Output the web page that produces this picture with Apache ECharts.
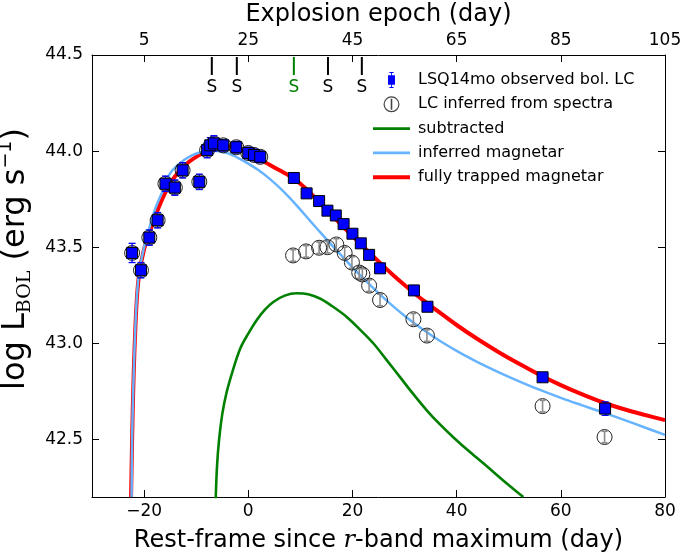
<!DOCTYPE html>
<html>
<head>
<meta charset="utf-8">
<script src="https://cdn.jsdelivr.net/npm/echarts@6/dist/echarts.min.js"></script>
<style>
html,body{margin:0;padding:0;background:#fff;}
#chart{width:687px;height:559px;}
</style>
</head>
<body>
<div id="chart"></div>
<script>
// ---- data ----
const bottomTicks = [-20, 0, 20, 40, 60, 80];
const topTickLabels = ['5', '25', '45', '65', '85', '105'];
const yTicks = [42.5, 43.0, 43.5, 44.0, 44.5];

const obsDay = [-22.3,-20.6,-19.0,-17.4,-15.9,-14.1,-12.6,-9.4,-7.9,-7.3,-6.6,-4.8,-2.3,0.0,1.1,2.3,8.75,11.2,13.6,15.2,16.8,18.3,20.0,21.6,23.2,25.3,31.8,34.4,56.5,68.5];
const obsL   = [43.47,43.38,43.55,43.64,43.83,43.81,43.90,43.84,44.005,44.03,44.04,44.03,44.02,43.99,43.98,43.97,43.86,43.78,43.74,43.69,43.665,43.62,43.57,43.52,43.46,43.39,43.275,43.19,42.823,42.66];
const obsErr = [0.05,0.04,0.04,0.04,0.04,0.04,0.04,0.04,0.04,0.04,0.04,0.03,0.03,0.03,0.03,0.03,0.02,0.02,0.02,0.02,0.02,0.02,0.02,0.02,0.02,0.02,0.02,0.02,0.02,0.035];

const spDay = [-22.3,-20.6,-19.0,-17.4,-15.9,-14.1,-12.6,-9.4,-7.9,-6.6,-4.8,-2.3,0.0,1.1,2.3,8.6,11.1,13.6,15.2,16.9,18.5,19.9,21.3,21.9,23.2,25.3,31.7,34.3,56.5,68.4];
const spL   = [43.47,43.38,43.55,43.64,43.83,43.81,43.90,43.84,44.005,44.04,44.03,44.02,43.99,43.98,43.97,43.457,43.478,43.497,43.50,43.514,43.47,43.42,43.368,43.358,43.30,43.225,43.125,43.04,42.673,42.512];
const spErr = [0.03,0.03,0.03,0.03,0.03,0.03,0.03,0.03,0.03,0.03,0.03,0.03,0.03,0.03,0.03,0.03,0.03,0.03,0.03,0.03,0.03,0.03,0.03,0.03,0.03,0.03,0.03,0.03,0.03,0.03];

const redDay = [-22.5,-22.3,-22.0,-21.5,-21.0,-20,-19,-18,-17,-16,-15,-14,-12,-10,-8,-6,-4,-2,0,2,4,6,8,10,12,14,16,18,20,22,24,26,28,30,32,34,36,40,44,48,52,56,60,64,68,72,76,80];
const redL   = [42.2,42.5,42.84,43.18,43.35,43.49,43.57,43.65,43.72,43.78,43.83,43.87,43.93,43.97,44.0,44.02,44.025,44.015,43.995,43.96,43.93,43.90,43.87,43.83,43.78,43.725,43.668,43.612,43.558,43.505,43.452,43.40,43.35,43.303,43.258,43.215,43.175,43.095,43.022,42.955,42.893,42.835,42.782,42.735,42.693,42.658,42.628,42.60];

const blueDay = [-22.4,-22.3,-22.0,-21.5,-21.0,-20,-19.6,-18,-16,-15,-13,-11,-9,-7,-6,-4,-2,0,2,4,6,8,10,12,14,16,18,20,22,24,26,28,30,32,34,36,38,40,42,44,48,52,56,60,64,68,72,76,80];
const blueL   = [42.2,42.5,42.84,43.19,43.36,43.50,43.54,43.69,43.82,43.885,43.94,43.975,43.995,44.005,44.0,43.99,43.965,43.935,43.90,43.858,43.81,43.755,43.695,43.633,43.572,43.512,43.453,43.395,43.34,43.287,43.236,43.188,43.143,43.101,43.062,43.026,42.992,42.96,42.93,42.902,42.85,42.802,42.757,42.716,42.678,42.641,42.603,42.563,42.523];

const greenDay = [-6.25,-6.0,-5.6,-5.0,-4.2,-3.0,-1.5,0.0,1.6,3.2,4.8,7.0,9.3,11.5,13.75,16.0,18.9,21.5,24.0,26.5,29.1,31.7,34.3,36.9,39.4,42.5,45.8,49.0,52.8];
const greenL   = [42.19,42.36,42.50,42.63,42.74,42.855,42.975,43.05,43.12,43.175,43.215,43.248,43.26,43.255,43.233,43.195,43.137,43.07,43.0,42.915,42.825,42.735,42.65,42.575,42.51,42.435,42.36,42.285,42.2];

const sDay = [-7.0, -2.2, 8.75, 15.3, 21.8];
const sColor = ['#000000', '#000000', '#008000', '#000000', '#000000'];

// ---- build series data ----
const zip = (a, b) => a.map((v, i) => [v, b[i]]);
const obsData = zip(obsDay, obsL);
const obsErrData = obsDay.map((d, i) => [d, obsL[i], obsErr[i]]);
const spData = zip(spDay, spL);
const spErrData = spDay.map((d, i) => [d, spL[i], spErr[i]]);
const sData = sDay.map((d, i) => [d, i]);

const FONT = 'DejaVu Sans';

function errRender(color, cap, width) {
  return function (params, api) {
    const x = api.value(0), y = api.value(1), e = api.value(2);
    const lo = api.coord([x, y - e]);
    const hi = api.coord([x, y + e]);
    const st = { stroke: color, lineWidth: width };
    return {
      type: 'group',
      children: [
        { type: 'line', shape: { x1: lo[0], y1: lo[1], x2: hi[0], y2: hi[1] }, style: st },
        { type: 'line', shape: { x1: lo[0] - cap, y1: lo[1], x2: lo[0] + cap, y2: lo[1] }, style: st },
        { type: 'line', shape: { x1: hi[0] - cap, y1: hi[1], x2: hi[0] + cap, y2: hi[1] }, style: st }
      ]
    };
  };
}

const chart = echarts.init(document.getElementById('chart'), null, { renderer: 'canvas' });

const axisCommon = {
  type: 'value',
  min: -30, max: 80,
  axisLine: { show: true, onZero: false, lineStyle: { color: '#000', width: 1 } },
  axisTick: { show: true, inside: true, length: 7, customValues: bottomTicks, lineStyle: { color: '#000', width: 1 } },
  splitLine: { show: false }
};

const lineSeries = (name, days, vals, color, width, z) => ({
  name, type: 'line', data: zip(days, vals), smooth: 0.35,
  showSymbol: false, symbol: 'none',
  lineStyle: { color, width }, itemStyle: { color }, z
});

const option = {
  backgroundColor: '#ffffff',
  animation: false,
  grid: { left: 92, right: 22, top: 55, bottom: 62, containLabel: false, outerBoundsMode: 'none' },
  xAxis: [
    Object.assign({}, axisCommon, {
      position: 'bottom',
      name: '{a|Rest-frame since }{it|r}{a|-band maximum (day)}',
      nameLocation: 'middle',
      nameGap: 30,
      nameTextStyle: {
        rich: {
          a: { fontFamily: FONT, fontSize: 24, color: '#000', lineHeight: 28 },
          it: { fontFamily: 'DejaVu Serif', fontStyle: 'italic', fontSize: 24, color: '#000', lineHeight: 28 }
        }
      },
      axisLabel: { show: true, customValues: bottomTicks, margin: 6, fontFamily: FONT, fontSize: 17, color: '#000',
        formatter: v => (v < 0 ? '\u2212' + Math.abs(v) : String(v)) }
    }),
    Object.assign({}, axisCommon, {
      position: 'top',
      name: 'Explosion epoch (day)',
      nameLocation: 'middle',
      nameGap: 28,
      nameTextStyle: { fontFamily: FONT, fontSize: 24, color: '#000' },
      axisLabel: { show: true, customValues: bottomTicks, margin: 6, fontFamily: FONT, fontSize: 17, color: '#000',
        formatter: v => topTickLabels[bottomTicks.indexOf(v)] }
    })
  ],
  yAxis: [
    {
      type: 'value', min: 42.2, max: 44.5, position: 'left',
      name: '{a|log L}{sub|BOL}{a| (erg s}{sup|\u22121}{a|)}',
      nameLocation: 'middle',
      nameGap: 46,
      nameTextStyle: {
        padding: [0, 0, 0, 34],
        rich: {
          a: { fontFamily: FONT, fontSize: 32, color: '#000', lineHeight: 38 },
          sub: { fontFamily: 'DejaVu Serif', fontSize: 19, color: '#000', verticalAlign: 'bottom', lineHeight: 20 },
          sup: { fontFamily: FONT, fontSize: 19, color: '#000', verticalAlign: 'top', lineHeight: 20 }
        }
      },
      axisLine: { show: true, onZero: false, lineStyle: { color: '#000', width: 1 } },
      axisTick: { show: true, inside: true, length: 7, customValues: yTicks, lineStyle: { color: '#000', width: 1 } },
      axisLabel: { show: true, customValues: yTicks, margin: 9, fontFamily: FONT, fontSize: 17, color: '#000',
        formatter: v => v.toFixed(1) },
      splitLine: { show: false }
    },
    {
      type: 'value', min: 42.2, max: 44.5, position: 'right',
      axisLine: { show: true, onZero: false, lineStyle: { color: '#000', width: 1 } },
      axisTick: { show: true, inside: true, length: 7, customValues: yTicks, lineStyle: { color: '#000', width: 1 } },
      axisLabel: { show: false },
      splitLine: { show: false }
    }
  ],
  legend: {
    orient: 'vertical',
    left: 368,
    top: 67,
    itemWidth: 37,
    itemHeight: 16,
    itemGap: 8.3,
    selectedMode: false,
    textStyle: { fontFamily: FONT, fontSize: 16, color: '#000', lineHeight: 16, padding: [0, 0, 0, 3] },
    data: [
      { name: 'LSQ14mo observed bol. LC',
        icon: 'path://M4,0h6v1.5h-6z M6.4,0h1.2v23h-1.2z M4,21.5h6v1.5h-6z M2,4.5h10v14h-10z',
        itemStyle: { color: '#0000ff', borderWidth: 0 } },
      { name: 'LC inferred from spectra',
        icon: 'path://M8,0A8,8 0 1,1 8,16A8,8 0 1,1 8,0Z M8,1.2A6.8,6.8 0 1,0 8,14.8A6.8,6.8 0 1,0 8,1.2Z M7.2,2.5h1.6v11h-1.6z',
        itemStyle: { color: '#444444', borderWidth: 0 } },
      { name: 'subtracted', icon: 'path://M0,0h37v2.6h-37z', itemStyle: { color: '#008000', borderWidth: 0 } },
      { name: 'inferred magnetar', icon: 'path://M0,0h37v2.6h-37z', itemStyle: { color: '#66b3ff', borderWidth: 0 } },
      { name: 'fully trapped magnetar', icon: 'path://M0,0h37v4h-37z', itemStyle: { color: '#ff0000', borderWidth: 0 } }
    ]
  },
  series: [
    lineSeries('subtracted', greenDay, greenL, '#008000', 2.6, 2),
    lineSeries('fully trapped magnetar', redDay, redL, '#ff0000', 4, 2),
    lineSeries('inferred magnetar', blueDay, blueL, '#66b3ff', 2.5, 3),
    { name: 'spErr', type: 'custom', data: spErrData, renderItem: errRender('#8c8c8c', 3, 1.6), z: 4, silent: true },
    { name: 'LC inferred from spectra', type: 'scatter', data: spData, symbol: 'circle', symbolSize: 15,
      itemStyle: { color: 'rgba(0,0,0,0)', borderColor: '#222', borderWidth: 1, opacity: 1 }, z: 4 },
    { name: 'obsErr', type: 'custom', data: obsErrData, renderItem: errRender('#0000ff', 3.5, 1.3), z: 5, silent: true },
    { name: 'LSQ14mo observed bol. LC', type: 'scatter', data: obsData, symbol: 'rect', symbolSize: 11,
      itemStyle: { color: '#0000ff', borderColor: '#000', borderWidth: 1, opacity: 1 }, z: 6 },
    { name: 'spectra epochs', type: 'custom', data: sData, z: 7, silent: true, clip: false,
      renderItem: function (params, api) {
        const p = api.coord([api.value(0), 44.5]);
        const c = sColor[api.value(1)];
        return {
          type: 'group',
          children: [
            { type: 'line', shape: { x1: p[0], y1: p[1] + 2, x2: p[0], y2: p[1] + 20 }, style: { stroke: c, lineWidth: 2 } },
            { type: 'text', x: p[0], y: p[1] + 33,
              style: { text: 'S', fill: c, font: '17px "DejaVu Sans"', align: 'center', verticalAlign: 'middle' } }
          ]
        };
      } }
  ]
};

chart.setOption(option);
</script>
</body>
</html>
